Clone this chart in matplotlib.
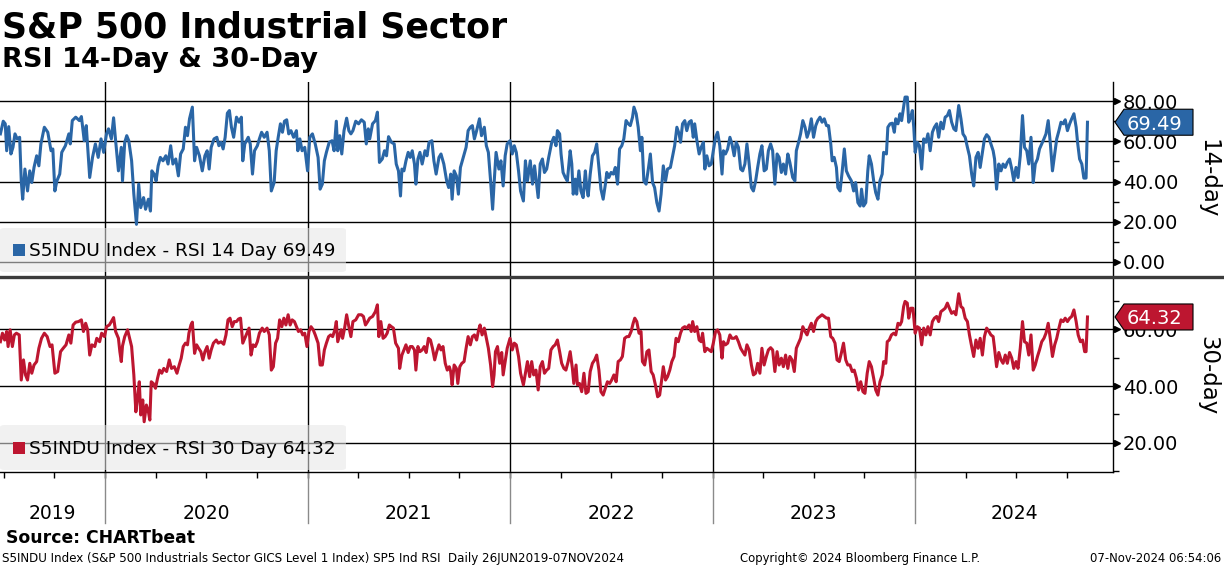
import numpy as np
import matplotlib
matplotlib.use("Agg")
import matplotlib.pyplot as plt
from matplotlib.patches import Polygon, Rectangle, FancyBboxPatch
from matplotlib.ticker import FormatStrFormatter
from matplotlib.transforms import blended_transform_factory, offset_copy

W, H = 1224, 566
BLUE = "#2a66a6"
RED = "#bd1630"

# RSI 14-day, time in decimal years
t14 = np.array([
    2019.483, 2019.497, 2019.507, 2019.514, 2019.524, 2019.535, 2019.545, 2019.555, 2019.566, 2019.578,
    2019.586, 2019.593, 2019.604, 2019.617, 2019.628, 2019.638, 2019.649, 2019.662, 2019.673, 2019.683,
    2019.700, 2019.717, 2019.733, 2019.742, 2019.752, 2019.762, 2019.776, 2019.786, 2019.804, 2019.821,
    2019.828, 2019.838, 2019.855, 2019.873, 2019.883, 2019.897, 2019.907, 2019.924, 2019.938, 2019.952,
    2019.966, 2019.980, 2019.993, 2020.007, 2020.017, 2020.031, 2020.042, 2020.052, 2020.066, 2020.080,
    2020.086, 2020.097, 2020.107, 2020.117, 2020.131, 2020.142, 2020.155, 2020.166, 2020.176, 2020.190,
    2020.200, 2020.214, 2020.224, 2020.231, 2020.242, 2020.252, 2020.262, 2020.273, 2020.286, 2020.300,
    2020.311, 2020.324, 2020.335, 2020.349, 2020.362, 2020.373, 2020.386, 2020.397, 2020.407, 2020.417,
    2020.431, 2020.442, 2020.452, 2020.466, 2020.480, 2020.493, 2020.504, 2020.514, 2020.524, 2020.538,
    2020.552, 2020.562, 2020.573, 2020.583, 2020.593, 2020.604, 2020.614, 2020.624, 2020.635, 2020.649,
    2020.662, 2020.673, 2020.680, 2020.690, 2020.707, 2020.717, 2020.728, 2020.738, 2020.752, 2020.762,
    2020.773, 2020.786, 2020.800, 2020.811, 2020.821, 2020.835, 2020.845, 2020.855, 2020.866, 2020.876,
    2020.886, 2020.897, 2020.907, 2020.918, 2020.931, 2020.945, 2020.952, 2020.962, 2020.973, 2020.986,
    2021.000, 2021.011, 2021.024, 2021.038, 2021.052, 2021.062, 2021.073, 2021.083, 2021.093, 2021.107,
    2021.121, 2021.131, 2021.142, 2021.149, 2021.159, 2021.169, 2021.180, 2021.193, 2021.204, 2021.214,
    2021.224, 2021.238, 2021.252, 2021.266, 2021.280, 2021.290, 2021.300, 2021.307, 2021.321, 2021.335,
    2021.345, 2021.355, 2021.369, 2021.380, 2021.390, 2021.400, 2021.414, 2021.428, 2021.438, 2021.449,
    2021.459, 2021.466, 2021.476, 2021.486, 2021.497, 2021.507, 2021.517, 2021.528, 2021.535, 2021.545,
    2021.555, 2021.566, 2021.580, 2021.590, 2021.600, 2021.614, 2021.624, 2021.635, 2021.649, 2021.659,
    2021.673, 2021.687, 2021.697, 2021.707, 2021.714, 2021.724, 2021.735, 2021.745, 2021.755, 2021.769,
    2021.783, 2021.793, 2021.804, 2021.814, 2021.824, 2021.835, 2021.849, 2021.859, 2021.873, 2021.883,
    2021.893, 2021.904, 2021.914, 2021.921, 2021.931, 2021.945, 2021.955, 2021.966, 2021.976, 2021.986,
    2022.000, 2022.011, 2022.021, 2022.031, 2022.042, 2022.052, 2022.066, 2022.076, 2022.086, 2022.100,
    2022.111, 2022.121, 2022.139, 2022.149, 2022.160, 2022.170, 2022.181, 2022.191, 2022.206, 2022.216,
    2022.227, 2022.234, 2022.245, 2022.252, 2022.262, 2022.273, 2022.283, 2022.297, 2022.305, 2022.312,
    2022.322, 2022.329, 2022.340, 2022.350, 2022.361, 2022.372, 2022.379, 2022.386, 2022.396, 2022.407,
    2022.418, 2022.428, 2022.439, 2022.449, 2022.460, 2022.471, 2022.478, 2022.488, 2022.499, 2022.510,
    2022.520, 2022.531, 2022.541, 2022.552, 2022.562, 2022.573, 2022.584, 2022.594, 2022.605, 2022.612,
    2022.623, 2022.633, 2022.644, 2022.651, 2022.661, 2022.672, 2022.683, 2022.693, 2022.704, 2022.714,
    2022.725, 2022.736, 2022.746, 2022.757, 2022.768, 2022.778, 2022.792, 2022.803, 2022.813, 2022.824,
    2022.835, 2022.842, 2022.852, 2022.863, 2022.873, 2022.884, 2022.895, 2022.905, 2022.912, 2022.923,
    2022.934, 2022.944, 2022.955, 2022.962, 2022.972, 2022.983, 2022.994, 2023.004, 2023.015, 2023.025,
    2023.036, 2023.047, 2023.054, 2023.064, 2023.075, 2023.086, 2023.096, 2023.107, 2023.117, 2023.128,
    2023.139, 2023.149, 2023.160, 2023.170, 2023.181, 2023.192, 2023.202, 2023.213, 2023.223, 2023.234,
    2023.244, 2023.255, 2023.266, 2023.276, 2023.287, 2023.297, 2023.308, 2023.319, 2023.329, 2023.340,
    2023.350, 2023.361, 2023.372, 2023.382, 2023.396, 2023.407, 2023.414, 2023.425, 2023.435, 2023.446,
    2023.457, 2023.467, 2023.478, 2023.488, 2023.499, 2023.510, 2023.520, 2023.531, 2023.541, 2023.552,
    2023.563, 2023.573, 2023.584, 2023.591, 2023.601, 2023.612, 2023.619, 2023.630, 2023.640, 2023.651,
    2023.661, 2023.672, 2023.686, 2023.697, 2023.707, 2023.718, 2023.729, 2023.736, 2023.746, 2023.757,
    2023.767, 2023.774, 2023.785, 2023.796, 2023.806, 2023.817, 2023.827, 2023.838, 2023.845, 2023.859,
    2023.866, 2023.877, 2023.888, 2023.898, 2023.905, 2023.916, 2023.926, 2023.934, 2023.944, 2023.951,
    2023.962, 2023.969, 2023.979, 2023.987, 2023.994, 2024.001, 2024.011, 2024.022, 2024.033, 2024.043,
    2024.054, 2024.064, 2024.075, 2024.086, 2024.096, 2024.107, 2024.117, 2024.128, 2024.139, 2024.149,
    2024.160, 2024.170, 2024.181, 2024.192, 2024.202, 2024.216, 2024.227, 2024.237, 2024.248, 2024.259,
    2024.269, 2024.280, 2024.290, 2024.301, 2024.312, 2024.322, 2024.333, 2024.343, 2024.354, 2024.365,
    2024.375, 2024.386, 2024.393, 2024.403, 2024.414, 2024.425, 2024.435, 2024.446, 2024.456, 2024.467,
    2024.478, 2024.488, 2024.499, 2024.509, 2024.520, 2024.531, 2024.541, 2024.552, 2024.562, 2024.573,
    2024.584, 2024.594, 2024.605, 2024.615, 2024.626, 2024.637, 2024.647, 2024.658, 2024.668, 2024.679,
    2024.690, 2024.700, 2024.711, 2024.721, 2024.732, 2024.742, 2024.753, 2024.764, 2024.774, 2024.785,
    2024.796, 2024.803, 2024.813, 2024.824, 2024.834, 2024.845, 2024.852,
])
rsi14 = np.array([
    63.7, 70.0, 68.7, 55.3, 67.3, 53.7, 57.0, 63.7, 61.2, 62.0,
    40.3, 31.2, 46.2, 35.3, 45.3, 39.5, 47.0, 52.8, 47.8, 58.7,
    67.0, 64.5, 55.3, 56.2, 35.3, 40.3, 43.7, 54.5, 57.8, 63.7,
    58.7, 70.3, 72.0, 70.3, 72.3, 60.3, 67.8, 42.0, 52.0, 58.7,
    52.0, 61.2, 54.5, 63.7, 66.2, 61.2, 71.7, 60.3, 45.3, 57.0,
    40.3, 59.5, 62.8, 60.3, 50.3, 33.7, 18.7, 38.7, 27.0, 32.0,
    26.2, 31.2, 25.3, 45.3, 43.7, 40.3, 47.8, 52.0, 50.3, 52.8,
    48.7, 57.8, 48.7, 51.2, 42.8, 53.7, 56.2, 67.0, 62.8, 71.2,
    77.0, 50.3, 57.0, 52.8, 45.3, 52.8, 55.3, 46.2, 57.0, 61.2,
    62.0, 57.8, 59.5, 56.2, 62.0, 74.0, 75.3, 67.0, 62.0, 72.0,
    69.5, 72.0, 50.3, 58.7, 62.0, 58.7, 43.7, 55.3, 57.8, 61.2,
    64.5, 62.0, 64.5, 55.3, 35.3, 39.5, 55.3, 62.0, 68.7, 64.5,
    70.0, 70.7, 63.7, 65.3, 62.0, 65.3, 55.3, 61.2, 55.3, 57.0,
    45.3, 62.0, 63.7, 58.7, 52.0, 36.2, 38.7, 50.3, 54.5, 59.5,
    60.3, 55.3, 70.0, 55.3, 62.8, 53.7, 65.3, 71.5, 65.3, 63.7,
    65.3, 70.0, 68.7, 70.7, 69.5, 58.7, 66.2, 61.2, 68.7, 70.3,
    74.5, 49.5, 51.2, 55.3, 52.8, 62.3, 59.5, 58.7, 48.7, 45.3,
    32.8, 46.2, 45.3, 50.3, 54.5, 52.0, 55.3, 48.7, 38.7, 51.2,
    54.5, 48.7, 55.3, 52.8, 59.5, 60.3, 50.3, 43.7, 52.0, 53.7,
    48.7, 40.3, 37.0, 43.7, 31.2, 45.3, 42.8, 33.7, 47.0, 52.0,
    57.0, 65.3, 67.0, 67.8, 61.2, 65.3, 71.2, 62.8, 67.0, 57.8,
    54.5, 40.3, 26.2, 38.7, 54.5, 46.2, 50.3, 37.8, 52.8, 58.7,
    60.3, 53.7, 57.8, 54.5, 45.3, 35.3, 30.3, 50.3, 40.3, 50.3,
    38.7, 47.8, 32.0, 48.7, 51.2, 44.5, 46.2, 52.0, 59.5, 62.0,
    57.8, 65.3, 63.7, 53.7, 44.5, 42.0, 40.3, 55.3, 48.7, 33.7,
    41.2, 33.7, 45.3, 35.3, 32.0, 45.3, 37.0, 32.8, 43.7, 52.8,
    54.5, 58.7, 47.0, 36.2, 31.2, 38.7, 44.5, 42.0, 44.5, 43.7,
    47.0, 38.7, 56.2, 57.8, 61.2, 70.3, 68.7, 67.8, 72.0, 77.0,
    73.7, 67.0, 55.3, 62.0, 40.3, 38.7, 46.2, 53.7, 39.5, 37.0,
    29.5, 25.3, 33.7, 47.8, 40.3, 46.2, 47.0, 52.8, 57.8, 67.0,
    63.7, 59.5, 68.7, 70.3, 65.3, 69.5, 70.3, 62.0, 68.7, 60.3,
    53.7, 57.0, 59.5, 46.2, 52.8, 47.8, 48.7, 55.3, 62.0, 64.5,
    57.8, 43.7, 55.3, 53.7, 56.2, 62.0, 58.7, 52.8, 59.5, 57.0,
    46.2, 45.3, 48.7, 58.7, 48.7, 37.0, 35.3, 40.3, 47.0, 53.7,
    57.8, 45.3, 46.2, 55.3, 58.7, 55.3, 38.7, 53.7, 52.0, 44.5,
    48.7, 43.7, 53.7, 49.5, 42.0, 40.3, 55.3, 59.5, 63.7, 70.3,
    67.0, 62.0, 65.3, 71.2, 62.0, 67.8, 70.3, 72.0, 69.5, 71.2,
    67.8, 67.8, 58.7, 50.3, 52.0, 47.0, 37.0, 35.3, 44.5, 56.2,
    45.3, 42.8, 40.3, 35.3, 39.5, 29.5, 27.8, 36.2, 27.8, 29.5,
    45.3, 52.8, 48.7, 40.3, 34.5, 31.2, 40.3, 43.7, 54.5, 53.7,
    67.0, 68.7, 69.0, 64.5, 71.2, 68.7, 73.7, 70.3, 77.0, 82.0,
    82.0, 69.5, 72.0, 75.3, 67.0, 54.5, 59.5, 57.8, 46.2, 61.2,
    59.5, 63.7, 55.3, 64.5, 67.0, 68.7, 62.0, 69.5, 66.2, 72.0,
    72.8, 75.3, 69.5, 66.2, 65.3, 77.8, 71.2, 63.7, 62.0, 57.0,
    52.8, 43.7, 37.8, 52.0, 54.5, 47.0, 54.5, 61.2, 63.3, 62.0,
    58.7, 55.3, 51.2, 36.2, 48.7, 45.3, 48.7, 47.0, 49.5, 51.2,
    46.2, 40.3, 47.0, 42.0, 52.8, 72.8, 57.0, 55.3, 48.7, 62.0,
    39.5, 48.7, 51.2, 56.2, 58.7, 61.2, 63.7, 70.3, 59.5, 45.3,
    53.7, 61.2, 65.3, 69.5, 68.7, 70.7, 65.3, 68.7, 71.2, 73.7,
    67.0, 59.5, 51.2, 48.7, 41.7, 41.7, 69.49,
])

# RSI 30-day, time in decimal years
t30 = np.array([
    2019.483, 2019.493, 2019.504, 2019.514, 2019.521, 2019.531, 2019.542, 2019.552, 2019.562, 2019.576,
    2019.586, 2019.597, 2019.607, 2019.617, 2019.628, 2019.638, 2019.649, 2019.662, 2019.673, 2019.686,
    2019.700, 2019.714, 2019.728, 2019.738, 2019.752, 2019.766, 2019.780, 2019.793, 2019.807, 2019.821,
    2019.831, 2019.842, 2019.855, 2019.869, 2019.883, 2019.893, 2019.904, 2019.914, 2019.924, 2019.935,
    2019.949, 2019.959, 2019.973, 2019.983, 2019.997, 2020.007, 2020.021, 2020.031, 2020.042, 2020.052,
    2020.066, 2020.073, 2020.080, 2020.086, 2020.097, 2020.111, 2020.121, 2020.131, 2020.142, 2020.152,
    2020.162, 2020.169, 2020.176, 2020.186, 2020.193, 2020.204, 2020.214, 2020.221, 2020.228, 2020.238,
    2020.249, 2020.259, 2020.269, 2020.280, 2020.290, 2020.304, 2020.317, 2020.328, 2020.342, 2020.355,
    2020.366, 2020.376, 2020.386, 2020.397, 2020.407, 2020.414, 2020.424, 2020.431, 2020.442, 2020.452,
    2020.462, 2020.473, 2020.483, 2020.493, 2020.504, 2020.514, 2020.524, 2020.535, 2020.549, 2020.559,
    2020.573, 2020.586, 2020.597, 2020.607, 2020.617, 2020.628, 2020.638, 2020.649, 2020.659, 2020.669,
    2020.680, 2020.690, 2020.700, 2020.711, 2020.721, 2020.731, 2020.742, 2020.752, 2020.762, 2020.776,
    2020.786, 2020.800, 2020.811, 2020.821, 2020.831, 2020.842, 2020.852, 2020.862, 2020.873, 2020.883,
    2020.893, 2020.904, 2020.914, 2020.924, 2020.935, 2020.945, 2020.955, 2020.966, 2020.976, 2020.986,
    2020.997, 2021.007, 2021.017, 2021.028, 2021.038, 2021.052, 2021.062, 2021.073, 2021.083, 2021.093,
    2021.104, 2021.114, 2021.124, 2021.135, 2021.142, 2021.149, 2021.159, 2021.166, 2021.173, 2021.183,
    2021.193, 2021.204, 2021.214, 2021.224, 2021.238, 2021.252, 2021.266, 2021.276, 2021.286, 2021.297,
    2021.307, 2021.321, 2021.335, 2021.345, 2021.352, 2021.362, 2021.373, 2021.383, 2021.393, 2021.404,
    2021.414, 2021.424, 2021.435, 2021.449, 2021.455, 2021.466, 2021.476, 2021.486, 2021.497, 2021.507,
    2021.517, 2021.528, 2021.535, 2021.545, 2021.555, 2021.566, 2021.576, 2021.586, 2021.597, 2021.607,
    2021.617, 2021.628, 2021.638, 2021.649, 2021.659, 2021.669, 2021.680, 2021.690, 2021.700, 2021.707,
    2021.714, 2021.724, 2021.735, 2021.742, 2021.752, 2021.762, 2021.773, 2021.783, 2021.793, 2021.804,
    2021.814, 2021.824, 2021.835, 2021.845, 2021.852, 2021.862, 2021.873, 2021.883, 2021.893, 2021.904,
    2021.914, 2021.921, 2021.928, 2021.938, 2021.949, 2021.959, 2021.966, 2021.976, 2021.986, 2022.000,
    2022.011, 2022.021, 2022.031, 2022.042, 2022.052, 2022.066, 2022.076, 2022.086, 2022.097, 2022.107,
    2022.117, 2022.128, 2022.139, 2022.149, 2022.160, 2022.170, 2022.181, 2022.191, 2022.202, 2022.213,
    2022.223, 2022.234, 2022.245, 2022.255, 2022.266, 2022.276, 2022.287, 2022.297, 2022.308, 2022.315,
    2022.326, 2022.333, 2022.343, 2022.354, 2022.365, 2022.375, 2022.386, 2022.396, 2022.407, 2022.418,
    2022.428, 2022.439, 2022.449, 2022.460, 2022.471, 2022.481, 2022.492, 2022.502, 2022.513, 2022.524,
    2022.534, 2022.545, 2022.555, 2022.566, 2022.577, 2022.587, 2022.598, 2022.608, 2022.616, 2022.626,
    2022.637, 2022.647, 2022.654, 2022.665, 2022.676, 2022.686, 2022.697, 2022.707, 2022.718, 2022.729,
    2022.739, 2022.750, 2022.757, 2022.768, 2022.778, 2022.789, 2022.799, 2022.810, 2022.820, 2022.831,
    2022.842, 2022.852, 2022.863, 2022.873, 2022.884, 2022.895, 2022.902, 2022.912, 2022.923, 2022.934,
    2022.944, 2022.951, 2022.962, 2022.972, 2022.983, 2022.994, 2023.004, 2023.015, 2023.025, 2023.036,
    2023.047, 2023.054, 2023.064, 2023.075, 2023.086, 2023.096, 2023.107, 2023.117, 2023.128, 2023.139,
    2023.149, 2023.160, 2023.170, 2023.181, 2023.192, 2023.202, 2023.213, 2023.223, 2023.234, 2023.244,
    2023.255, 2023.266, 2023.276, 2023.287, 2023.297, 2023.308, 2023.319, 2023.329, 2023.340, 2023.350,
    2023.361, 2023.372, 2023.382, 2023.393, 2023.404, 2023.414, 2023.425, 2023.435, 2023.446, 2023.457,
    2023.467, 2023.478, 2023.488, 2023.499, 2023.510, 2023.520, 2023.531, 2023.541, 2023.552, 2023.563,
    2023.573, 2023.584, 2023.594, 2023.605, 2023.615, 2023.626, 2023.637, 2023.647, 2023.658, 2023.668,
    2023.679, 2023.690, 2023.700, 2023.711, 2023.721, 2023.732, 2023.743, 2023.753, 2023.764, 2023.774,
    2023.785, 2023.796, 2023.806, 2023.817, 2023.827, 2023.838, 2023.845, 2023.856, 2023.863, 2023.873,
    2023.884, 2023.895, 2023.905, 2023.916, 2023.926, 2023.934, 2023.944, 2023.951, 2023.962, 2023.969,
    2023.979, 2023.990, 2024.001, 2024.011, 2024.022, 2024.033, 2024.043, 2024.054, 2024.064, 2024.075,
    2024.086, 2024.096, 2024.107, 2024.117, 2024.128, 2024.139, 2024.149, 2024.160, 2024.170, 2024.181,
    2024.192, 2024.202, 2024.216, 2024.227, 2024.237, 2024.248, 2024.259, 2024.269, 2024.280, 2024.290,
    2024.301, 2024.312, 2024.322, 2024.333, 2024.343, 2024.354, 2024.365, 2024.375, 2024.386, 2024.393,
    2024.403, 2024.414, 2024.425, 2024.435, 2024.446, 2024.456, 2024.467, 2024.478, 2024.488, 2024.499,
    2024.509, 2024.520, 2024.531, 2024.541, 2024.552, 2024.562, 2024.573, 2024.584, 2024.594, 2024.605,
    2024.615, 2024.626, 2024.637, 2024.647, 2024.658, 2024.668, 2024.679, 2024.690, 2024.700, 2024.711,
    2024.721, 2024.732, 2024.742, 2024.753, 2024.764, 2024.774, 2024.785, 2024.796, 2024.806, 2024.817,
    2024.828, 2024.838, 2024.845, 2024.852,
])
rsi30 = np.array([
    55.6, 58.6, 56.2, 59.2, 53.9, 59.8, 53.9, 58.0, 58.6, 58.0,
    42.1, 49.2, 43.9, 42.1, 48.0, 44.5, 47.4, 48.6, 53.3, 56.8,
    58.6, 57.4, 53.9, 54.5, 44.5, 45.1, 52.1, 53.3, 54.5, 58.0,
    55.1, 61.5, 62.5, 62.7, 63.3, 59.2, 62.1, 59.8, 50.9, 54.5,
    53.9, 56.8, 55.6, 58.6, 57.4, 60.9, 61.5, 62.7, 64.1, 59.2,
    56.8, 52.1, 48.6, 54.1, 57.4, 59.8, 56.8, 53.9, 43.9, 30.9,
    36.8, 41.5, 29.8, 35.1, 27.4, 33.3, 30.9, 28.0, 41.5, 40.9,
    39.2, 42.7, 45.6, 44.5, 46.2, 45.1, 49.2, 46.2, 46.8, 44.5,
    47.4, 49.8, 53.9, 55.1, 54.5, 58.6, 61.5, 62.5, 51.5, 54.5,
    53.3, 52.1, 49.2, 52.1, 53.9, 49.8, 52.7, 55.1, 56.2, 55.1,
    55.6, 54.7, 58.0, 63.3, 63.9, 60.9, 62.7, 62.7, 63.6, 63.9,
    55.1, 56.8, 58.6, 60.4, 50.9, 54.5, 53.9, 55.6, 58.6, 60.4,
    59.2, 60.4, 58.0, 45.6, 46.8, 55.1, 56.8, 63.3, 60.9, 63.9,
    61.5, 65.1, 61.5, 63.3, 62.7, 60.9, 59.2, 59.8, 58.0, 58.6,
    53.9, 59.2, 60.9, 59.8, 58.0, 55.1, 47.4, 47.4, 52.7, 55.1,
    57.4, 58.0, 57.4, 59.8, 62.7, 55.6, 58.0, 59.8, 56.8, 60.4,
    65.1, 60.9, 57.4, 62.7, 63.3, 65.1, 65.1, 64.5, 61.5, 62.7,
    63.9, 64.5, 66.2, 68.6, 57.4, 62.7, 56.8, 57.4, 58.6, 61.5,
    60.9, 60.4, 55.1, 53.3, 46.2, 50.9, 52.7, 54.5, 51.8, 53.9,
    53.9, 52.7, 45.6, 53.9, 52.1, 52.7, 53.9, 51.8, 56.8, 56.2,
    53.3, 49.2, 52.1, 54.5, 52.7, 53.9, 48.0, 45.6, 46.8, 45.1,
    40.4, 47.4, 46.2, 40.9, 46.8, 48.0, 48.6, 53.3, 57.4, 54.5,
    57.4, 58.0, 56.2, 59.8, 61.5, 58.0, 60.4, 56.8, 53.3, 47.4,
    39.8, 43.9, 52.1, 53.9, 48.0, 51.8, 43.9, 48.6, 53.3, 56.8,
    52.7, 55.1, 54.5, 50.4, 44.5, 40.4, 44.5, 48.6, 43.3, 48.6,
    43.9, 45.6, 38.6, 46.8, 48.6, 44.5, 45.6, 46.2, 52.7, 53.9,
    54.5, 56.2, 52.1, 48.0, 46.2, 45.6, 48.6, 52.1, 46.2, 40.9,
    47.4, 40.4, 40.9, 38.0, 44.5, 37.4, 38.0, 45.1, 48.0, 49.2,
    50.9, 45.6, 38.0, 36.8, 39.2, 41.5, 40.9, 42.1, 43.9, 41.5,
    48.6, 49.2, 50.4, 56.8, 57.4, 57.4, 59.2, 62.1, 63.9, 62.7,
    58.6, 59.2, 48.6, 47.4, 52.1, 52.7, 45.1, 43.9, 40.4, 36.2,
    36.8, 42.7, 46.8, 42.1, 43.3, 45.6, 48.6, 50.4, 56.8, 55.6,
    58.6, 60.4, 60.9, 60.4, 61.5, 59.2, 62.7, 59.2, 60.9, 56.2,
    55.6, 58.6, 52.1, 53.3, 52.7, 52.1, 55.1, 59.2, 59.8, 58.0,
    49.8, 55.6, 54.5, 55.1, 58.0, 56.8, 56.8, 57.4, 55.6, 53.3,
    52.1, 50.9, 54.5, 52.7, 47.4, 43.9, 44.5, 48.0, 44.5, 53.3,
    47.4, 50.4, 52.7, 53.5, 52.7, 45.1, 52.1, 47.4, 49.8, 46.8,
    50.9, 46.2, 50.4, 49.2, 45.1, 53.3, 55.1, 56.8, 60.9, 59.2,
    58.0, 60.4, 62.1, 59.2, 62.7, 63.9, 64.5, 65.1, 64.5, 63.9,
    63.9, 57.4, 56.8, 55.1, 49.2, 48.6, 51.8, 55.1, 49.2, 47.4,
    47.4, 45.1, 45.6, 42.7, 38.6, 41.5, 38.0, 37.4, 44.5, 48.6,
    46.8, 42.7, 38.6, 36.8, 41.5, 43.9, 48.6, 48.0, 55.6, 56.2,
    58.0, 58.6, 58.0, 62.1, 61.5, 62.7, 68.0, 69.8, 69.2, 63.9,
    67.4, 67.4, 58.6, 60.9, 60.4, 54.5, 60.4, 58.0, 60.9, 58.0,
    62.7, 63.9, 64.5, 62.7, 66.2, 66.8, 67.4, 69.2, 67.4, 65.6,
    66.2, 65.1, 72.5, 68.0, 67.4, 63.9, 62.7, 58.0, 53.9, 50.4,
    56.2, 53.3, 56.8, 50.9, 57.4, 60.4, 59.2, 58.0, 57.4, 53.3,
    46.8, 51.8, 49.2, 48.0, 50.9, 48.0, 51.8, 49.8, 46.2, 48.6,
    46.2, 53.3, 62.7, 55.6, 55.1, 50.9, 58.0, 45.6, 47.4, 50.4,
    52.7, 55.6, 56.8, 58.6, 62.1, 56.8, 50.4, 54.5, 56.8, 60.4,
    63.3, 62.7, 63.9, 62.7, 63.9, 64.5, 66.8, 62.7, 58.0, 55.6,
    56.2, 52.1, 52.1, 64.32,
])

YEARS = [2019, 2020, 2021, 2022, 2023, 2024]
YEAR_LINES = [2020, 2021, 2022, 2023, 2024]
QUARTERS = np.arange(2019.5, 2025.0, 0.25)
X0, X1 = 2019.481, 2024.978

TOP_MAJOR = [0, 20, 40, 60, 80]
TOP_MINOR = [10, 30, 50, 70]
BOT_MAJOR = [20, 40, 60]
BOT_MINOR = [10, 30, 50, 70]

fig = plt.figure(figsize=(W / 100, H / 100), dpi=100)


def fx(px):
    return px / W


def fy(py):
    return 1 - py / H


def setup_panel(ax, ylim, major, minor, side_label):
    ax.set_xlim(X0, X1)
    ax.set_ylim(*ylim)
    ax.spines["top"].set_visible(False)
    ax.spines["left"].set_visible(False)
    ax.spines["right"].set_linewidth(1.0)
    ax.yaxis.tick_right()
    ax.set_yticks(major)
    ax.set_yticks(minor, minor=True)
    ax.yaxis.set_major_formatter(FormatStrFormatter("%.2f"))
    ax.tick_params(axis="y", which="major", length=0, pad=7, labelsize=14)
    ax.tick_params(axis="y", which="minor", length=4, width=1, direction="out")
    ax.yaxis.grid(True, which="major", color="black", lw=1.0)
    for yr in YEAR_LINES:
        ax.axvline(yr, color="black", lw=1.0, zorder=1.5)
    # arrow heads on the major ticks
    trans = offset_copy(blended_transform_factory(ax.transAxes, ax.transData),
                        fig=fig, x=4, y=0, units="dots")
    ax.plot(np.ones(len(major)), major, ls="none", marker=">", ms=5,
            color="black", transform=trans, clip_on=False)
    bb = ax.get_position()
    fig.text(fx(1208), (bb.y0 + bb.y1) / 2, side_label, rotation=270,
             ha="center", va="center", fontsize=16.5)


def add_legend(ax, top_px, bottom_px, color, label):
    box = FancyBboxPatch((0, fy(bottom_px)), fx(346), fy(top_px) - fy(bottom_px),
                         boxstyle="round,pad=0,rounding_size=0.004",
                         transform=fig.transFigure, facecolor="#e6e6e6",
                         edgecolor="none", alpha=0.55, zorder=1.8)
    ax.add_patch(box)
    mid = (top_px + bottom_px) / 2
    sq = Rectangle((fx(13), fy(mid + 6)), fx(12), fy(mid - 6) - fy(mid + 6),
                   transform=fig.transFigure, facecolor=color, edgecolor="none")
    fig.add_artist(sq)
    fig.text(fx(29), fy(mid + 6), label, fontsize=13.3, va="baseline", ha="left")


def add_tag(ax, value, color):
    yd = ax.transData.transform((X1, value))[1]
    yc = H - yd
    pts = [(1115, yc), (1124, yc - 13), (1193, yc - 13), (1193, yc + 13), (1124, yc + 13)]
    poly = Polygon([(fx(x), fy(y)) for x, y in pts], closed=True,
                   transform=fig.transFigure, facecolor=color,
                   edgecolor="black", lw=0.8, zorder=5)
    fig.add_artist(poly)
    fig.text(fx(1155), fy(yc), f"{value:.2f}", color="white", fontsize=14,
             ha="center", va="center_baseline", zorder=6)


# top panel: RSI 14-day
ax1 = fig.add_axes([0, fy(276), fx(1113), (276 - 82) / H])
setup_panel(ax1, (-7, 89.5), TOP_MAJOR, TOP_MINOR, "14-day")
ax1.spines["bottom"].set_visible(False)
ax1.set_xticks([])
ax1.plot(t14, rsi14, color=BLUE, lw=2.2, zorder=3, solid_joinstyle="round")
add_legend(ax1, 228, 272, BLUE, "S5INDU Index - RSI 14 Day 69.49")

# bottom panel: RSI 30-day
ax2 = fig.add_axes([0, fy(472), fx(1113), (472 - 279) / H])
setup_panel(ax2, (9.7, 77.7), BOT_MAJOR, BOT_MINOR, "30-day")
ax2.spines["bottom"].set_linewidth(1.0)
ax2.set_xticks(QUARTERS)
ax2.set_xticklabels([])
ax2.tick_params(axis="x", length=4, width=1, direction="out")
ax2.plot(t30, rsi30, color=RED, lw=2.2, zorder=3, solid_joinstyle="round")
add_legend(ax2, 425, 470, RED, "S5INDU Index - RSI 30 Day 64.32")

# year separators and labels under the bottom panel
xtrans = blended_transform_factory(ax2.transData, ax2.transAxes)
for yr in YEAR_LINES:
    ax2.plot([yr, yr], [0, -(523 - 472) / 193], color="#8a8a8a", lw=1.0,
             transform=xtrans, clip_on=False)
for yr in YEARS:
    lo, hi = max(yr, X0), min(yr + 1, X1)
    ax2.text((lo + hi) / 2, -(519 - 472) / 193, str(yr), transform=xtrans,
             ha="center", va="baseline", fontsize=13.5)

# thick separator between the panels
fig.add_artist(plt.Line2D([0, 1], [fy(277.5), fy(277.5)], transform=fig.transFigure,
                          color="#3c3c3c", lw=2.4, zorder=4))

add_tag(ax1, 69.49, BLUE)
add_tag(ax2, 64.32, RED)

# titles
fig.text(fx(2), fy(38), "S&P 500 Industrial Sector", fontsize=25,
         fontweight="bold", va="baseline", ha="left")
fig.text(fx(2), fy(67), "RSI 14-Day & 30-Day", fontsize=19.5,
         fontweight="bold", va="baseline", ha="left")

# footer
fig.text(fx(6), fy(543), "Source: CHARTbeat", fontsize=12.4, fontweight="bold",
         va="baseline", ha="left")
fig.text(fx(2), fy(562),
         "S5INDU Index (S&P 500 Industrials Sector GICS Level 1 Index) SP5 Ind RSI  Daily 26JUN2019-07NOV2024",
         fontsize=8.6, va="baseline", ha="left")
fig.text(fx(860), fy(562), "Copyright\u00a9 2024 Bloomberg Finance L.P.", fontsize=8.4,
         va="baseline", ha="center")
fig.text(fx(1221), fy(562), "07-Nov-2024 06:54:06", fontsize=8.4,
         va="baseline", ha="right")

fig.savefig("out.png", dpi=100)
